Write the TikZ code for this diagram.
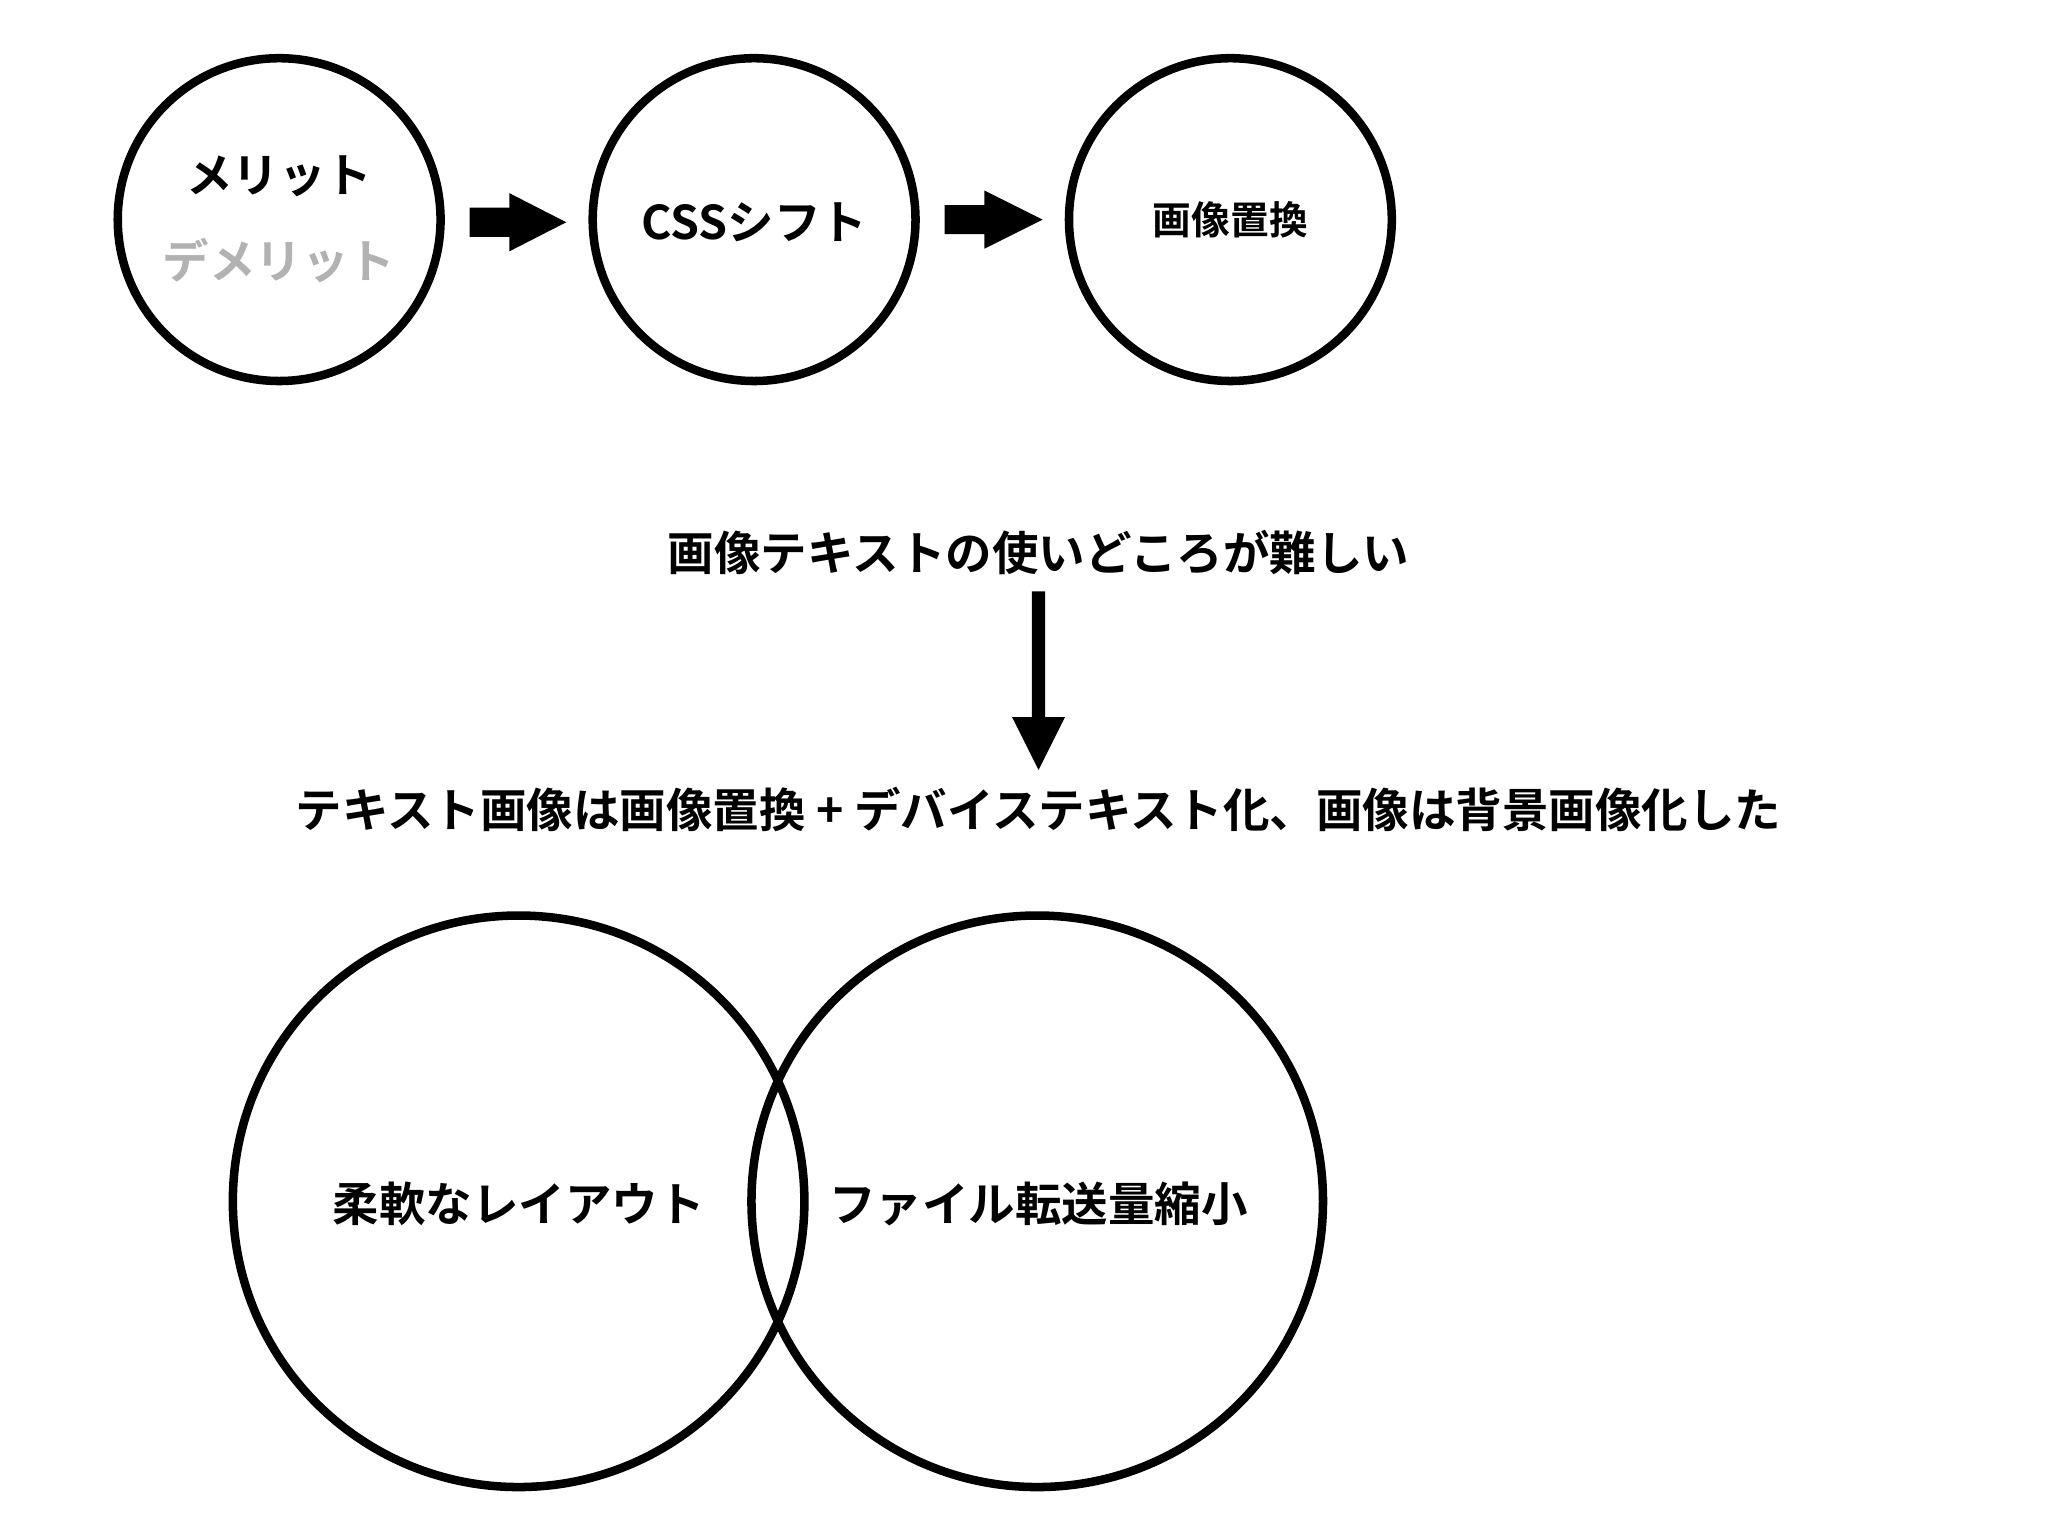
\documentclass[tikz,border=0pt]{standalone}
\usepackage{fontspec}
\newfontfamily\jp{Noto Sans CJK JP Bold}
\begin{document}
\begin{tikzpicture}[x=0.03cm,y=-0.03cm,
  circ/.style={draw,line width=5.5pt,circle,inner sep=0pt},
  lbl/.style={font=\jp\fontsize{30}{36}\selectfont,inner sep=0pt},
  blockarrow/.style={fill=black}]
\useasboundingbox (0,0) rectangle (1548,1161);
\node[circ,minimum size=244*0.03cm] (c1) at (211,166) {};
\node[circ,minimum size=244*0.03cm] (c2) at (570,166) {};
\node[circ,minimum size=244*0.03cm] (c3) at (930,166) {};
\node[lbl] (m) at (211,133) {メリット};
\node[lbl,text=black!30] (dm) at (211,197) {デメリット};
\node[lbl] (css) at (570,168) {CSSシフト};
\node[lbl,font=\jp\fontsize{25}{30}\selectfont] (gz) at (930,166) {画像置換};
% block arrows
\fill (355,157) -- (385,157) -- (385,146) -- (428,168) -- (385,190) -- (385,179) -- (355,179) -- cycle;
\fill (714,155) -- (744,155) -- (744,144) -- (788,166) -- (744,188) -- (744,177) -- (714,177) -- cycle;
\node[lbl] (t1) at (785,418) {画像テキストの使いどころが難しい};
\node[lbl] (t2) at (785,612) {テキスト画像は画像置換 + デバイステキスト化、画像は背景画像化した};
\coordinate (a1) at (785,447);
\coordinate (a2) at (785,582);
\fill (780,447) -- (790,447) -- (790,542) -- (805,542) -- (785,582) -- (765,542) -- (780,542) -- cycle;
\node[circ,minimum size=432*0.03cm] (b1) at (392,908) {};
\node[circ,minimum size=432*0.03cm] (b2) at (784,908) {};
\node[lbl] (l1) at (392,910) {柔軟なレイアウト};
\node[lbl] (l2) at (785,910) {ファイル転送量縮小};
\end{tikzpicture}
\end{document}
